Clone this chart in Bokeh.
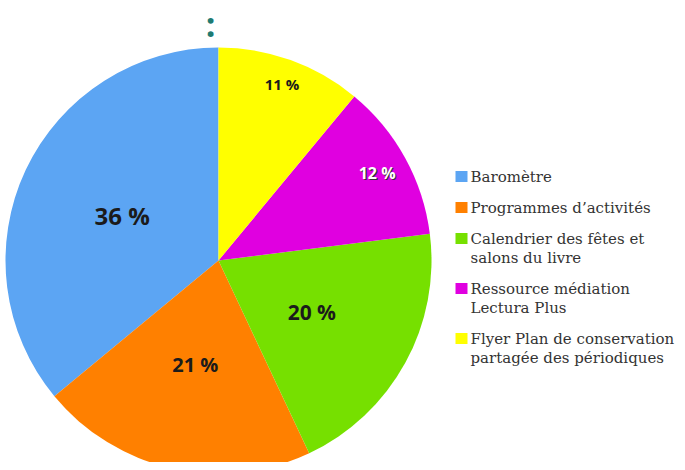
import numpy as np
from bokeh.plotting import figure
from bokeh.models import Range1d, ColumnDataSource
from bokeh.core.properties import value
from bokeh.embed import file_html
from bokeh.resources import INLINE

# ---- data ----
categories = [
    "Baromètre",
    "Programmes d’activités",
    "Calendrier des fêtes et\nsalons du livre",
    "Ressource médiation\nLectura Plus",
    "Flyer Plan de conservation\npartagée des périodiques",
]
shares = [36, 21, 20, 12, 11]
pct_labels = [f"{s} %" for s in shares]
colors = ["#5CA5F3", "#FF8000", "#76E000", "#E000E0", "#FFFF00"]

# ---- styles / layout ----
W, H = 677, 462
cx, cy, R = 218, 202, 213
label_rfrac = [0.50, 0.50, 0.50, 0.85, 0.88]
label_sizes = ["24px", "20px", "21px", "16px", "15px"]
label_styles = ["bold", "bold", "bold", "bold", "bold"]
label_colors = ["#1b1b1b", "#1b1b1b", "#1b1b1b", "#ffffff", "#1b1b1b"]

fr = np.array(shares, dtype=float) / sum(shares)
cum = np.concatenate([[0], np.cumsum(fr)])
start = np.pi / 2 + cum[:-1] * 2 * np.pi
end = np.pi / 2 + cum[1:] * 2 * np.pi
mid = (start + end) / 2

p = figure(width=W, height=H, output_backend="svg", toolbar_location=None,
           x_range=Range1d(0, W), y_range=Range1d(0, H), min_border=0)
p.axis.visible = False
p.grid.visible = False
p.outline_line_color = None
p.background_fill_color = "white"

src = ColumnDataSource(dict(start=start, end=end, color=colors))
p.wedge(x=cx, y=cy, radius=R, start_angle="start", end_angle="end",
        fill_color="color", line_color=None, source=src)

lx = cx + np.array(label_rfrac) * R * np.cos(mid)
ly = cy + np.array(label_rfrac) * R * np.sin(mid)
lsrc = ColumnDataSource(dict(x=lx, y=ly, t=pct_labels, size=label_sizes,
                             style=label_styles, color=label_colors))
# dark shadow for white labels
sh = [i for i, c in enumerate(label_colors) if c == "#ffffff"]
ssrc = ColumnDataSource(dict(x=lx[sh], y=ly[sh], t=[pct_labels[i] for i in sh],
                             size=[label_sizes[i] for i in sh],
                             style=[label_styles[i] for i in sh]))
p.text(x="x", y="y", text="t", source=ssrc, text_font=value("Open Sans"),
       text_font_size="size", text_font_style="style", text_color="#333333",
       text_align="center", text_baseline="middle", x_offset=1.2, y_offset=1.2)
p.text(x="x", y="y", text="t", source=lsrc, text_font=value("Open Sans"),
       text_font_size="size", text_font_style="style", text_color="color",
       text_align="center", text_baseline="middle")

# ---- legend (manual) ----
leg_x_sq, leg_x_txt = 461, 470
row_y = 286
line_h, gap = 19, 31
sq_x, sq_y, sq_c, tx, ty, tt = [], [], [], [], [], []
for cat, col in zip(categories, colors):
    lines = cat.split("\n")
    sq_x.append(leg_x_sq); sq_y.append(row_y); sq_c.append(col)
    for i, ln in enumerate(lines):
        tx.append(leg_x_txt); ty.append(row_y - i * line_h); tt.append(ln)
    row_y -= (len(lines) - 1) * line_h + gap

p.rect(x=sq_x, y=sq_y, width=12, height=11, fill_color=sq_c, line_color=None)
p.text(x=tx, y=ty, text=tt, text_font=value("DejaVu Serif"), text_font_size="15px",
       text_color="#333333", text_align="left", text_baseline="middle")

# truncated title mark at top
p.text(x=[210], y=[H], text=[":"], text_font=value("Open Sans"),
       text_font_size="34px", text_font_style="bold", text_color="#1E7B73",
       text_align="center", text_baseline="top")

open("out.html", "w").write(file_html(p, INLINE))
